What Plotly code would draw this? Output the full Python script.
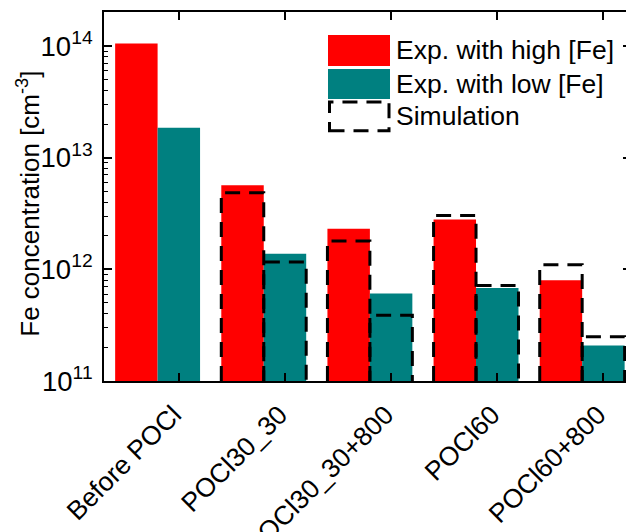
import plotly.graph_objects as go

categories = ["Before POCl", "POCl30_30", "POCl30_30+800", "POCl60", "POCl60+800"]
exp_high = [1.05e14, 5.66e12, 2.31e12, 2.79e12, 7.98e11]
exp_low = [1.85e13, 1.38e12, 6.07e11, 6.82e11, 2.08e11]
sim_high = [None, 4.84e12, 1.79e12, 3.03e12, 1.10e12]
sim_low = [None, 1.16e12, 3.88e11, 7.16e11, 2.49e11]

RED = "#FF0000"
TEAL = "#008080"
FONT = "Liberation Sans, Arial, sans-serif"
BW = 0.4
YMIN = 1e11
DASH = "15px,9px"
XRANGE = [-0.505, 4.46]

# page body has an 8px default margin; size the figure so it fits the window
OFF = 8
FIG_W, FIG_H = 634 - OFF, 532 - OFF

xs = list(range(len(categories)))

fig = go.Figure()
fig.add_trace(go.Bar(x=xs, y=exp_high, width=BW, offset=-BW, marker=dict(color=RED, line=dict(width=0)),
                     name="Exp. with high [Fe]", showlegend=False))
fig.add_trace(go.Bar(x=xs, y=exp_low, width=BW, offset=0, marker=dict(color=TEAL, line=dict(width=0)),
                     name="Exp. with low [Fe]", showlegend=False))


def outline(vals, left_off):
    px, py = [], []
    for i, v in enumerate(vals):
        if v is None:
            continue
        x0 = i + left_off
        x1 = x0 + BW
        px += [x0, x0, x1, x1, None]
        py += [YMIN, v, v, YMIN, None]
    return px, py


for vals, off in ((sim_high, -BW), (sim_low, 0.0)):
    px, py = outline(vals, off)
    fig.add_trace(go.Scatter(x=px, y=py, mode="lines", name="Simulation", showlegend=False,
                             line=dict(color="black", width=3, dash=DASH), hoverinfo="skip"))

# plot-area edges in window pixels
L, R, T, B = 104, 631, 12, 381.5
W, H = R - L, B - T


def px2x(p):
    return (p - L) / W


def px2y(p):
    return (B - p) / H


legend_items = [("Exp. with high [Fe]", RED, 35, 66, "fill"),
                ("Exp. with low [Fe]", TEAL, 69, 99, "fill"),
                ("Simulation", None, 102, 131, "dash")]
for label, col, y0, y1, kind in legend_items:
    if kind == "fill":
        fig.add_shape(type="rect", xref="paper", yref="paper", x0=px2x(328), x1=px2x(390),
                      y0=px2y(y1), y1=px2y(y0), fillcolor=col, line=dict(width=0))
    else:
        fig.add_shape(type="rect", xref="paper", yref="paper", x0=px2x(329.5), x1=px2x(389),
                      y0=px2y(y1), y1=px2y(y0), fillcolor="rgba(0,0,0,0)",
                      line=dict(color="black", width=3, dash=DASH))
    fig.add_annotation(xref="paper", yref="paper", x=px2x(394), y=px2y((y0 + y1) / 2),
                       text=label, showarrow=False, xanchor="left", yanchor="middle",
                       font=dict(family=FONT, size=26.5, color="black"))

# y-axis title
fig.add_annotation(xref="paper", yref="paper", x=px2x(29), y=px2y(204), textangle=-90,
                   text="Fe concentration [cm<sup>-3</sup>]", showarrow=False,
                   xanchor="center", yanchor="middle", font=dict(family=FONT, size=26, color="black"))

fig.update_layout(
    width=FIG_W, height=FIG_H,
    margin=dict(l=L - OFF, r=634 - R, t=T - OFF, b=532 - B),
    plot_bgcolor="white", paper_bgcolor="white",
    barmode="overlay",
    font=dict(family=FONT, size=22, color="black"),
    showlegend=False,
    xaxis2=dict(overlaying="x", anchor="y", side="bottom", range=XRANGE,
                tickvals=[i + 0.15 for i in xs], ticktext=categories, tickangle=-45,
                ticks="", showline=False, showgrid=False, zeroline=False,
                tickfont=dict(family=FONT, size=26.5), automargin=False, ticklabelstandoff=12),
)
fig.layout.xaxis.update(
    range=XRANGE, tickvals=[i + 0.2 for i in xs], showticklabels=False,
    ticks="inside", ticklen=8, tickwidth=1.5, tickcolor="black",
    showline=True, linecolor="black", linewidth=2, mirror="ticks", showgrid=False, zeroline=False,
    automargin=False,
)
# invisible helper trace to activate the label axis
fig.add_trace(go.Scatter(x=[XRANGE[0]], y=[YMIN], xaxis="x2", mode="markers",
                         marker=dict(opacity=0), showlegend=False, hoverinfo="skip"))
fig.update_yaxes(
    type="log", range=[11, 14.304], dtick=1, exponentformat="power",
    ticks="inside", ticklen=8, tickwidth=1.5, tickcolor="black",
    minor=dict(ticks="inside", ticklen=4, tickwidth=1.2, tickcolor="black", dtick="D1", showgrid=False),
    showline=True, linecolor="black", linewidth=2, mirror="ticks", showgrid=False, zeroline=False,
    tickfont=dict(family=FONT, size=22), ticklabelstandoff=5, automargin=False,
)

fig.write_html("out.html")
